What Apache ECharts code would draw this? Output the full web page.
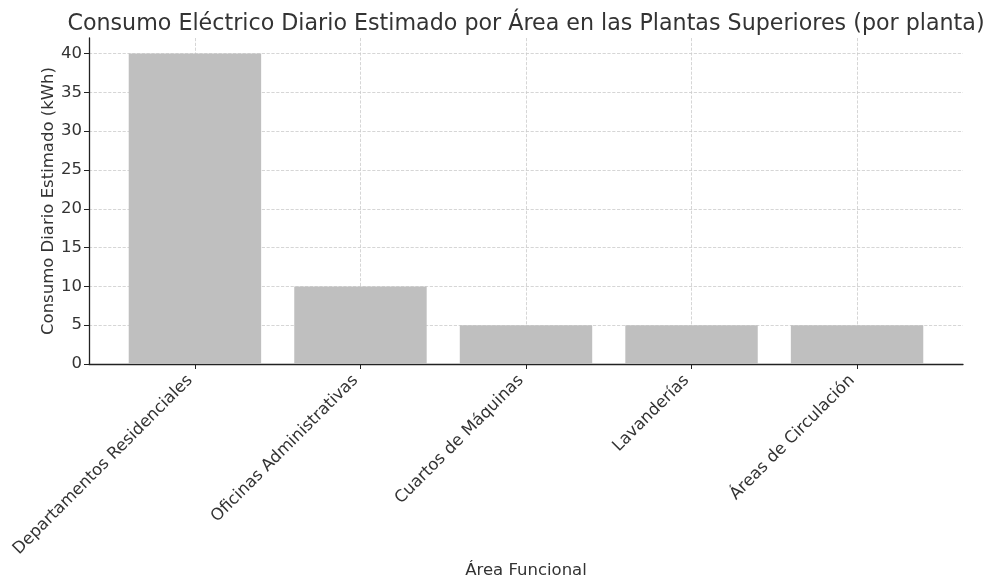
<!DOCTYPE html>
<html>
<head>
<meta charset="utf-8">
<script src="https://cdn.jsdelivr.net/npm/echarts@6/dist/echarts.min.js"></script>
<style>html,body{margin:0;padding:0;background:#fff}#c{width:988px;height:579px}</style>
</head>
<body>
<div id="c"></div>
<script>
const categories = ["Departamentos Residenciales", "Oficinas Administrativas", "Cuartos de Máquinas", "Lavanderías", "Áreas de Circulación"];
const values = [40, 10, 5, 5, 5];
const yTicks = [0, 5, 10, 15, 20, 25, 30, 35, 40];
const titleText = "Consumo Eléctrico Diario Estimado por Área en las Plantas Superiores (por planta)";
const xName = "Área Funcional";
const yName = "Consumo Diario Estimado (kWh)";

const idx = categories.map((c, i) => i);
const chart = echarts.init(document.getElementById('c'), null, {renderer: 'canvas'});
const font = 'DejaVu Sans';
const gridLeft = 89, gridRight = 25;
const plotW = 988 - gridLeft - gridRight;
const xMin = -0.64, xMax = categories.length - 1 + 0.64;
const bandPx = plotW / (xMax - xMin);

chart.setOption({
  animation: false,
  title: {
    text: titleText, left: 521, top: 8, textAlign: 'center',
    textStyle: {fontFamily: font, fontSize: 22.2, fontWeight: 'normal', color: '#333'}
  },
  grid: {left: gridLeft, right: gridRight, top: 38, bottom: 215, containLabel: false, outerBoundsMode: 'none'},
  xAxis: {
    type: 'value', min: xMin, max: xMax,
    name: xName, nameLocation: 'middle', nameGap: 198, nameMoveOverlap: false,
    nameTextStyle: {fontFamily: font, fontSize: 16.5, color: '#333'},
    axisLine: {show: true, onZero: false, lineStyle: {color: '#222', width: 1.3}},
    axisTick: {show: true, customValues: idx, length: 5, lineStyle: {color: '#222'}},
    axisLabel: {
      customValues: idx, rotate: 45, margin: 9, padding: [0, 7, 0, 0],
      fontFamily: font, fontSize: 16.5, color: '#333',
      formatter: v => categories[Math.round(v)]
    },
    splitLine: {show: true, lineStyle: {color: '#ccc', type: 'dashed', width: 0.8}}
  },
  yAxis: {
    type: 'value', min: 0, max: 42,
    name: yName, nameLocation: 'middle', nameGap: 32, nameMoveOverlap: false,
    nameTextStyle: {fontFamily: font, fontSize: 16.5, color: '#333'},
    axisLine: {show: true, onZero: false, lineStyle: {color: '#222', width: 1.3}},
    axisTick: {show: true, customValues: yTicks, length: 5, lineStyle: {color: '#222'}},
    axisLabel: {customValues: yTicks, fontFamily: font, fontSize: 16.5, color: '#333', margin: 7},
    splitLine: {show: true, lineStyle: {color: '#ccc', type: 'dashed', width: 0.8}}
  },
  series: [{
    type: 'bar',
    data: values.map((v, i) => [i, v]),
    barWidth: bandPx * 0.8,
    itemStyle: {color: '#bfbfbf'}
  }]
});
</script>
</body>
</html>
